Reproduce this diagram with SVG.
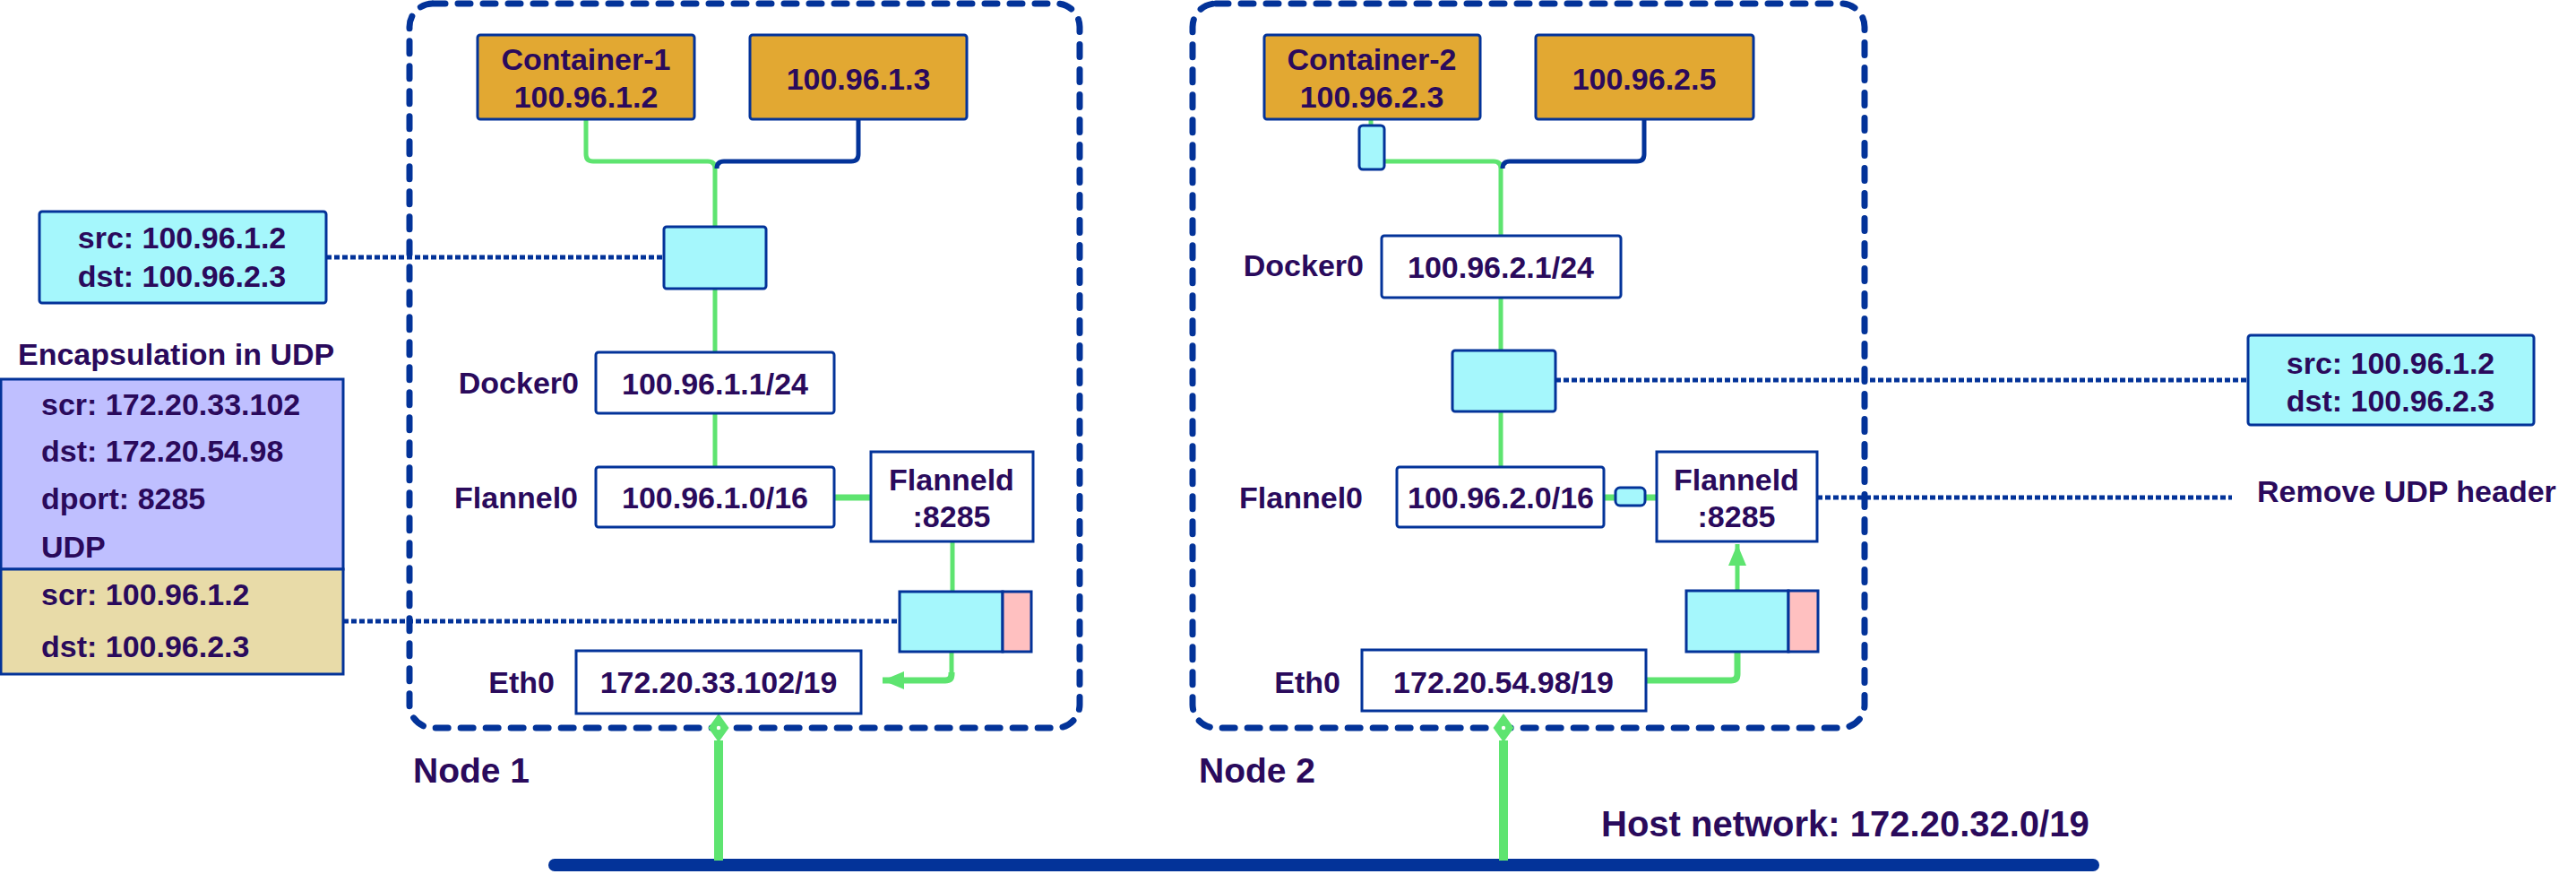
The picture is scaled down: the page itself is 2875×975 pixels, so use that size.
<svg xmlns="http://www.w3.org/2000/svg" width="2875" height="975" viewBox="0 0 2875 975">
<defs>
<style>
text{font-family:"Liberation Sans",Arial,sans-serif;font-weight:bold;font-size:34px;fill:#2a0a5c}
.c{text-anchor:middle}
.e{text-anchor:end}
.big{font-size:39px}
.host{font-size:40px}
.node{fill:none;stroke:#033399;stroke-width:7;stroke-dasharray:14 14;stroke-linecap:round}
.box{fill:#fff;stroke:#033399;stroke-width:3}
.org{fill:#e2a832;stroke:#033399;stroke-width:3}
.cy{fill:#a5f7fc;stroke:#033399;stroke-width:3}
.pk{fill:#ffc0c0;stroke:#033399;stroke-width:3}
.pu{fill:#bfbfff;stroke:#033399;stroke-width:3}
.tan{fill:#e8dba8;stroke:#033399;stroke-width:3}
.g{fill:none;stroke:#5ee470;stroke-width:5;stroke-linejoin:round}
.gt{fill:none;stroke:#5ee470;stroke-width:7;stroke-linejoin:round}
.bl{fill:none;stroke:#033399;stroke-width:5;stroke-linejoin:round}
.dot{fill:none;stroke:#033399;stroke-width:5;stroke-dasharray:6 3}
</style>
<marker id="ah" viewBox="0 0 24 20" refX="24" refY="10" markerWidth="24" markerHeight="20" markerUnits="userSpaceOnUse" orient="auto">
<path d="M0,0 L24,10 L0,20 Z" fill="#5ee470"/>
</marker>
</defs>

<g id="node1-frame"><rect class="node" x="457" y="4" width="748" height="808" rx="26"/><text class="big" x="461" y="873">Node 1</text></g>
<g id="node2-frame"><rect class="node" x="1331" y="4" width="750" height="808" rx="26"/><text class="big" x="1338" y="873">Node 2</text></g>

<g id="connectors">
<path class="g" d="M654,133 V172 Q654,180 662,180 H790 Q798,180 798,188 V253"/>
<path class="bl" d="M958,133 V172 Q958,180 950,180 H808 Q800,180 800,188"/>
<path class="g" d="M798,322 V393"/>
<path class="g" d="M798,461 V521"/>
<path class="gt" d="M931,555 H972"/>
<path class="g" d="M1063,604 V660"/>
<path class="g" d="M1062,727 V752"/>
<path class="gt" d="M1062,750 V752 Q1062,759 1055,759 H985" marker-end="url(#ah)"/>
<path class="dot" d="M364,287 H741"/>
<path class="dot" d="M383,693 H1004"/>

<path class="g" d="M1530,133 V172 Q1530,180 1538,180 H1667 Q1675,180 1675,188 V263"/>
<path class="bl" d="M1835,133 V172 Q1835,180 1827,180 H1685 Q1677,180 1677,188"/>
<path class="g" d="M1675,332 V391"/>
<path class="g" d="M1675,459 V521"/>
<path class="gt" d="M1790,555 H1849"/>
<path class="g" d="M1939,660 V607" marker-end="url(#ah)"/>
<path class="gt" d="M1939,727 V752 Q1939,759 1932,759 H1837"/>
<path class="dot" d="M1736,424 H2509"/>
<path class="dot" d="M2028,555 H2491"/>

<path d="M619,965 H2336" stroke="#033399" stroke-width="14" stroke-linecap="round"/>
<path d="M802,826 V960" stroke="#5ee470" stroke-width="10"/>
<polygon points="802,796 813.5,812 802,828 790.5,812" fill="#5ee470"/>
<circle cx="802" cy="812" r="2.2" fill="#fff"/>
<path d="M1678,826 V960" stroke="#5ee470" stroke-width="10"/>
<polygon points="1678,796 1689.5,812 1678,828 1666.5,812" fill="#5ee470"/>
<circle cx="1678" cy="812" r="2.2" fill="#fff"/>
</g>

<g id="container1"><rect class="org" x="533" y="39" width="242" height="94" rx="3"/><text class="c" x="654" y="78">Container-1</text><text class="c" x="654" y="120">100.96.1.2</text></g>
<g id="c1-3"><rect class="org" x="837" y="39" width="242" height="94" rx="3"/><text class="c" x="958" y="100">100.96.1.3</text></g>
<g id="pkt1"><rect class="cy" x="741" y="253" width="114" height="69" rx="3"/></g>
<g id="docker0-1"><rect class="box" x="665" y="393" width="266" height="68" rx="3"/><text class="c" x="798" y="440">100.96.1.1/24</text><text class="e" x="646" y="439">Docker0</text></g>
<g id="flannel0-1"><rect class="box" x="665" y="521" width="266" height="67" rx="3"/><text class="c" x="798" y="567">100.96.1.0/16</text><text class="e" x="645" y="567">Flannel0</text></g>
<g id="flanneld-1"><rect class="box" x="972" y="504" width="181" height="100"/><text class="c" x="1062" y="547">Flanneld</text><text class="c" x="1062" y="588">:8285</text></g>
<g id="udp-pkt1"><rect class="cy" x="1004" y="660" width="115" height="67"/><rect class="pk" x="1119" y="660" width="32" height="67"/></g>
<g id="eth0-1"><rect class="box" x="643" y="726" width="318" height="70"/><text class="c" x="802" y="773">172.20.33.102/19</text><text class="e" x="619" y="773">Eth0</text></g>

<g id="container2"><rect class="org" x="1411" y="39" width="241" height="94" rx="3"/><text class="c" x="1531" y="78">Container-2</text><text class="c" x="1531" y="120">100.96.2.3</text></g>
<g id="c2-5"><rect class="org" x="1714" y="39" width="243" height="94" rx="3"/><text class="c" x="1835" y="100">100.96.2.5</text></g>
<g id="veth2"><rect class="cy" x="1517" y="140" width="28" height="49" rx="4"/></g>
<g id="docker0-2"><rect class="box" x="1542" y="263" width="267" height="69" rx="3"/><text class="c" x="1675" y="310">100.96.2.1/24</text><text class="e" x="1522" y="308">Docker0</text></g>
<g id="pkt2"><rect class="cy" x="1621" y="391" width="115" height="68" rx="3"/></g>
<g id="flannel0-2"><rect class="box" x="1559" y="521" width="231" height="67" rx="3"/><text class="c" x="1675" y="567">100.96.2.0/16</text><text class="e" x="1521" y="567">Flannel0</text></g>
<g id="tun2"><rect class="cy" x="1803" y="544" width="33" height="20" rx="5"/></g>
<g id="flanneld-2"><rect class="box" x="1849" y="504" width="179" height="100"/><text class="c" x="1938" y="547">Flanneld</text><text class="c" x="1938" y="588">:8285</text></g>
<g id="udp-pkt2"><rect class="cy" x="1882" y="659" width="114" height="68"/><rect class="pk" x="1996" y="659" width="33" height="68"/></g>
<g id="eth0-2"><rect class="box" x="1520" y="725" width="317" height="68"/><text class="c" x="1678" y="773">172.20.54.98/19</text><text class="e" x="1496" y="773">Eth0</text></g>

<g id="src-dst-1"><rect class="cy" x="44" y="236" width="320" height="102" rx="3"/><text class="c" x="203" y="277">src: 100.96.1.2</text><text class="c" x="203" y="320">dst: 100.96.2.3</text></g>
<g id="encap"><text x="20" y="407">Encapsulation in UDP</text>
<rect class="pu" x="1" y="423" width="382" height="212"/><rect class="tan" x="1" y="635" width="382" height="117"/>
<text x="46" y="463">scr: 172.20.33.102</text><text x="46" y="515">dst: 172.20.54.98</text><text x="46" y="568">dport: 8285</text><text x="46" y="622">UDP</text>
<text x="46" y="675">scr: 100.96.1.2</text><text x="46" y="733">dst: 100.96.2.3</text></g>
<g id="src-dst-2"><rect class="cy" x="2509" y="374" width="319" height="100" rx="3"/><text class="c" x="2668" y="417">src: 100.96.1.2</text><text class="c" x="2668" y="459">dst: 100.96.2.3</text></g>
<g id="remove-udp"><text x="2519" y="560">Remove UDP header</text></g>
<g id="host-net"><text class="host" x="1787" y="933">Host network: 172.20.32.0/19</text></g>
</svg>
